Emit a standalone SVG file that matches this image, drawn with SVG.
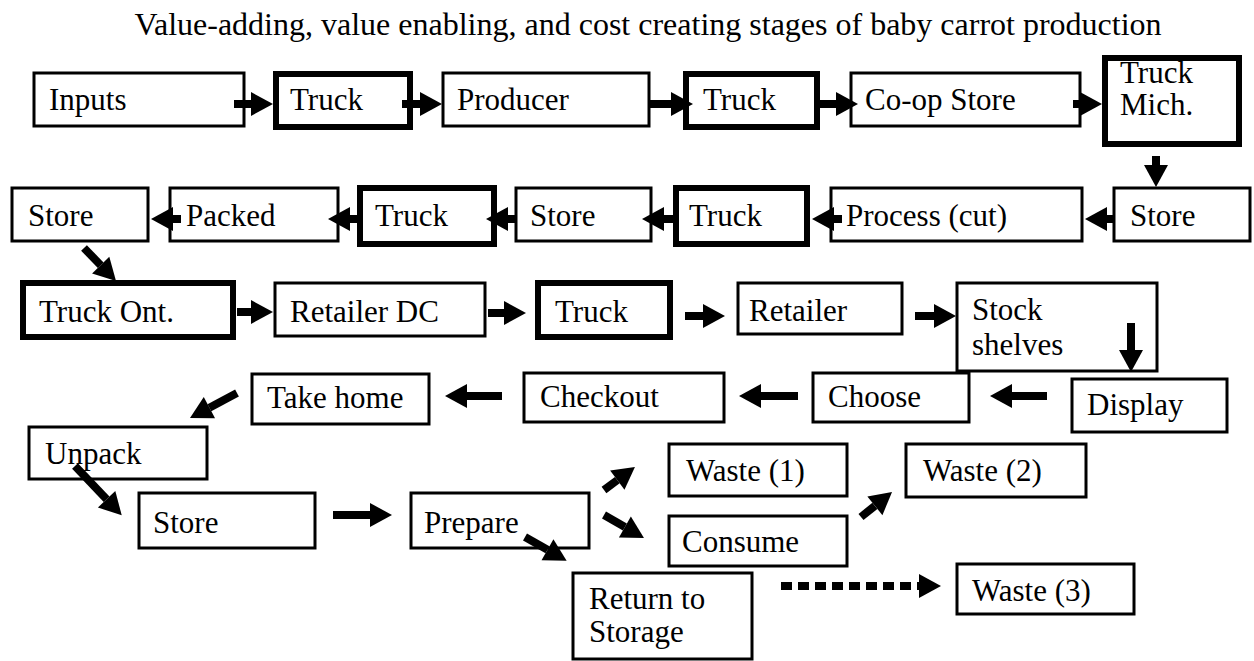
<svg xmlns="http://www.w3.org/2000/svg" width="1254" height="661" viewBox="0 0 1254 661" font-family="'Liberation Serif', 'Times New Roman', serif">
  <defs>
    <style>
      .box { fill: #fff; stroke: #000; stroke-width: 3; }
      .thick { fill: #fff; stroke: #000; stroke-width: 6; }
      text { font-family: 'Liberation Serif', 'Times New Roman', serif; fill: #000; }
      .lbl { font-size: 31px; }
      .title { font-size: 32px; }
      .arrow { stroke: #000; stroke-width: 8; fill: none; marker-end: url(#head); }
      .dotted { stroke-dasharray: 11 6; }
    </style>
    <!-- solid block arrowhead; the line ends at the head's base -->
    <marker id="head" markerUnits="userSpaceOnUse" markerWidth="22" markerHeight="24" refX="0" refY="12" orient="auto" overflow="visible">
      <path d="M0,0 L22,12 L0,24 Z" fill="#000"/>
    </marker>
  </defs>
  <rect width="1254" height="661" fill="#fff"/>

  <text class="title" x="648" y="35" text-anchor="middle">Value-adding, value enabling, and cost creating stages of baby carrot production</text>

  <!-- row 1 -->
  <g id="n-inputs"><rect class="box" x="34" y="73" width="210" height="53"/><text class="lbl" x="49" y="110">Inputs</text></g>
  <g id="n-truck-1"><rect class="thick" x="276" y="74" width="134" height="53"/><text class="lbl" x="290" y="110">Truck</text></g>
  <g id="n-producer"><rect class="box" x="443" y="73" width="206" height="53"/><text class="lbl" x="457" y="110">Producer</text></g>
  <g id="n-truck-2"><rect class="thick" x="686" y="74" width="131" height="53"/><text class="lbl" x="703" y="110">Truck</text></g>
  <g id="n-coop"><rect class="box" x="851" y="73" width="229" height="53"/><text class="lbl" x="865" y="110">Co-op Store</text></g>
  <g id="n-truck-mich"><rect class="thick" x="1105" y="58" width="134" height="86"/><text class="lbl" x="1120" y="83">Truck</text><text class="lbl" x="1120" y="115">Mich.</text></g>

  <!-- row 2 -->
  <g id="n-store-1"><rect class="box" x="12" y="188" width="136" height="53"/><text class="lbl" x="28" y="226">Store</text></g>
  <g id="n-packed"><rect class="box" x="170" y="188" width="168" height="53"/><text class="lbl" x="186" y="226">Packed</text></g>
  <g id="n-truck-3"><rect class="thick" x="360" y="188" width="134" height="56"/><text class="lbl" x="375" y="226">Truck</text></g>
  <g id="n-store-2"><rect class="box" x="516" y="188" width="135" height="53"/><text class="lbl" x="530" y="226">Store</text></g>
  <g id="n-truck-4"><rect class="thick" x="676" y="188" width="131" height="56"/><text class="lbl" x="689" y="226">Truck</text></g>
  <g id="n-process"><rect class="box" x="831" y="188" width="251" height="53"/><text class="lbl" x="846" y="226">Process (cut)</text></g>
  <g id="n-store-3"><rect class="box" x="1114" y="188" width="136" height="53"/><text class="lbl" x="1130" y="226">Store</text></g>

  <!-- row 3 -->
  <g id="n-truck-ont"><rect class="thick" x="23" y="283" width="210" height="54"/><text class="lbl" x="39" y="322">Truck Ont.</text></g>
  <g id="n-retailer-dc"><rect class="box" x="275" y="283" width="210" height="53"/><text class="lbl" x="290" y="322">Retailer DC</text></g>
  <g id="n-truck-5"><rect class="thick" x="538" y="283" width="132" height="54"/><text class="lbl" x="555" y="322">Truck</text></g>
  <g id="n-retailer"><rect class="box" x="738" y="283" width="164" height="51"/><text class="lbl" x="749" y="321">Retailer</text></g>
  <g id="n-stock"><rect class="box" x="957" y="283" width="200" height="88"/><text class="lbl" x="972" y="320">Stock</text><text class="lbl" x="972" y="355">shelves</text></g>

  <!-- row 4 -->
  <g id="n-display"><rect class="box" x="1072" y="379" width="155" height="53"/><text class="lbl" x="1087" y="415">Display</text></g>
  <g id="n-choose"><rect class="box" x="813" y="373" width="156" height="49"/><text class="lbl" x="828" y="407">Choose</text></g>
  <g id="n-checkout"><rect class="box" x="524" y="373" width="200" height="49"/><text class="lbl" x="540" y="407">Checkout</text></g>
  <g id="n-take-home"><rect class="box" x="252" y="374" width="177" height="50"/><text class="lbl" x="267" y="408">Take home</text></g>
  <g id="n-unpack"><rect class="box" x="29" y="427" width="178" height="52"/><text class="lbl" x="45" y="464">Unpack</text></g>

  <!-- row 5 -->
  <g id="n-store-4"><rect class="box" x="139" y="493" width="176" height="55"/><text class="lbl" x="153" y="533">Store</text></g>
  <g id="n-prepare"><rect class="box" x="411" y="493" width="178" height="55"/><text class="lbl" x="424" y="533">Prepare</text></g>
  <g id="n-waste-1"><rect class="box" x="669" y="444" width="178" height="52"/><text class="lbl" x="686" y="481">Waste (1)</text></g>
  <g id="n-consume"><rect class="box" x="669" y="516" width="178" height="50"/><text class="lbl" x="682" y="552">Consume</text></g>
  <g id="n-waste-2"><rect class="box" x="906" y="444" width="180" height="53"/><text class="lbl" x="923" y="481">Waste (2)</text></g>
  <g id="n-return"><rect class="box" x="573" y="573" width="179" height="86"/><text class="lbl" x="589" y="609">Return to</text><text class="lbl" x="589" y="642">Storage</text></g>
  <g id="n-waste-3"><rect class="box" x="957" y="564" width="177" height="50"/><text class="lbl" x="972" y="601">Waste (3)</text></g>

  <g id="connectors">
    <!-- row 1, left to right -->
    <line class="arrow" x1="234" y1="104" x2="251" y2="104"/>
    <line class="arrow" x1="402" y1="104" x2="420" y2="104"/>
    <line class="arrow" x1="648" y1="104" x2="671" y2="104"/>
    <line class="arrow" x1="820" y1="104" x2="836" y2="104"/>
    <line class="arrow" x1="1073" y1="104" x2="1080" y2="104"/>
    <!-- down to row 2 -->
    <line class="arrow" x1="1156" y1="156" x2="1156" y2="165"/>
    <!-- row 2, right to left -->
    <line class="arrow" x1="1114" y1="219" x2="1107" y2="219"/>
    <line class="arrow" x1="842" y1="219" x2="834" y2="219"/>
    <line class="arrow" x1="675" y1="219" x2="664" y2="219"/>
    <line class="arrow" x1="516" y1="219" x2="508" y2="219"/>
    <line class="arrow" x1="357" y1="219" x2="350" y2="219"/>
    <line class="arrow" x1="181" y1="219" x2="173" y2="219"/>
    <!-- down to row 3 -->
    <line class="arrow" x1="84" y1="248" x2="100.7" y2="265.2"/>
    <!-- row 3, left to right -->
    <line class="arrow" x1="237" y1="312" x2="251" y2="312"/>
    <line class="arrow" x1="488" y1="313" x2="504" y2="313"/>
    <line class="arrow" x1="685" y1="316" x2="703" y2="316"/>
    <line class="arrow" x1="915" y1="316" x2="934" y2="316"/>
    <line class="arrow" x1="1131" y1="323" x2="1131" y2="350"/>
    <!-- row 4, right to left -->
    <line class="arrow" x1="1047" y1="396" x2="1012" y2="396"/>
    <line class="arrow" x1="798" y1="396" x2="761" y2="396"/>
    <line class="arrow" x1="502" y1="396" x2="467" y2="396"/>
    <line class="arrow" x1="237" y1="393" x2="209.4" y2="407.7"/>
    <line class="arrow" x1="75" y1="466" x2="106.6" y2="499.3"/>
    <!-- row 5 -->
    <line class="arrow" x1="333" y1="515" x2="370" y2="515"/>
    <line class="arrow" x1="604" y1="490" x2="617.3" y2="480.1"/>
    <line class="arrow" x1="604" y1="515" x2="624.9" y2="527"/>
    <line class="arrow" x1="861" y1="517" x2="874.9" y2="505.8"/>
    <line class="arrow" x1="525" y1="537" x2="547.5" y2="549.8"/>
    <line class="arrow dotted" x1="781" y1="586" x2="919" y2="586"/>
  </g>
</svg>
